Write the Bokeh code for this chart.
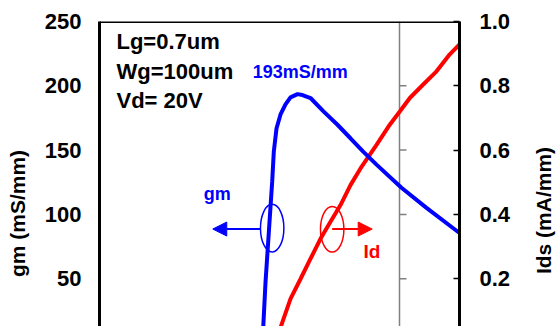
import numpy as np
from bokeh.plotting import figure
from bokeh.layouts import row
from bokeh.models import (Range1d, LinearAxis, FixedTicker, NumeralTickFormatter,
                          Span, Label, Arrow, NormalHead)
from bokeh.embed import file_html
from bokeh.resources import INLINE

# ---- data ----
vg_gm = [-2.29, -2.272, -2.233, -2.122, -2.095, -2.05, -1.983, -1.9, -1.817, -1.7,
         -1.617, -1.483, -1.267, -1.038, -0.817, -0.605, -0.383, 0.033, 0.45, 1.0]
gm = [0.0, 11.3, 47.3, 125.4, 148.8, 166.8, 177.7, 185.5, 191.0, 193.5,
      192.8, 190.5, 180.1, 169.9, 159.2, 148.8, 138.7, 120.7, 105.1, 85.5]

vg_id = [-2.1, -1.983, -1.817, -1.65, -1.483, -1.317, -1.15, -0.983, -0.817, -0.65,
         -0.383, -0.162, 0.005, 0.172, 0.395, 0.617, 0.838, 1.0]
ids = [0.0, 0.048, 0.137, 0.199, 0.262, 0.324, 0.377, 0.429, 0.491, 0.543,
       0.616, 0.679, 0.72, 0.762, 0.804, 0.845, 0.898, 0.929]

gm_ticks = [50, 100, 150, 200, 250]
ids_ticks = [0.2, 0.4, 0.6, 0.8, 1.0]
inner_ticks = [50, 100, 150, 200]

gm_title = "gm (mS/mm)"
ids_title = "Ids (mA/mm)"

x_min, x_max = -5.0, 1.0
gm_min, gm_max = 12.8, 250.0
ids_scale = 250.0

H = 326
LW, RW = 34, 26            # side strips holding the axis titles
W = 556 - LW - RW
BL, BR, BT = 99 - LW, 97 - RW, 21
FONT = "Liberation Sans"
BLUE = "#0000ff"
RED = "#ff0000"

p = figure(width=W, height=H, output_backend="svg", toolbar_location=None,
           x_range=Range1d(x_min, x_max), y_range=Range1d(gm_min, gm_max),
           x_axis_location=None, y_axis_location="left",
           min_border_left=BL, min_border_right=BR, min_border_top=BT, min_border_bottom=0)
p.outline_line_color = None
p.grid.visible = False
p.background_fill_color = "white"
p.border_fill_color = "white"
p.extra_y_ranges = {"ids": Range1d(gm_min / ids_scale, gm_max / ids_scale)}

def style_labels(a, size="22px"):
    a.major_label_text_font = FONT
    a.major_label_text_font_style = "bold"
    a.major_label_text_font_size = size
    a.major_label_text_color = "black"

ax = p.yaxis[0]
ax.ticker = FixedTicker(ticks=gm_ticks)
ax.major_tick_in = 0
ax.major_tick_out = 0
ax.minor_tick_in = 0
ax.minor_tick_out = 0
ax.axis_line_width = 3
ax.axis_line_color = "black"
ax.major_label_standoff = 18
style_labels(ax)

rax = LinearAxis(y_range_name="ids", ticker=FixedTicker(ticks=ids_ticks),
                 formatter=NumeralTickFormatter(format="0.0"),
                 major_tick_in=6, major_tick_out=0, minor_tick_in=0, minor_tick_out=0,
                 major_tick_line_width=1.5, axis_line_width=3, axis_line_color="black",
                 major_label_standoff=20)
style_labels(rax)
p.add_layout(rax, "right")

# top border of the frame
p.add_layout(Span(location=gm_max, dimension="width", line_color="black", line_width=3))

# gray axis line at Vg = 0 with short ticks
p.add_layout(Span(location=0, dimension="height", line_color="#808080", line_width=1.5,
                  level="underlay"))
frame_w = W - BL - BR
tick_dx = 7 * (x_max - x_min) / frame_w
p.segment(x0=[0.0] * len(inner_ticks), y0=inner_ticks,
          x1=[tick_dx] * len(inner_ticks), y1=inner_ticks,
          line_color="#808080", line_width=1.5)

# curves
p.line(vg_id, ids, y_range_name="ids", line_color=RED, line_width=4)
p.line(vg_gm, gm, line_color=BLUE, line_width=4)

# ellipses and arrows
p.ellipse(x=[-2.122], y=[89.3], width=0.39, height=37.0,
          fill_color=None, line_color=BLUE, line_width=1.5)
p.ellipse(x=[-1.122], y=[88.4], width=0.39, height=35.5,
          fill_color=None, line_color=RED, line_width=1.5)
p.add_layout(Arrow(end=NormalHead(size=14, fill_color=BLUE, line_color=BLUE),
                   x_start=-2.317, y_start=88.6, x_end=-3.112, y_end=88.6,
                   line_color=BLUE, line_width=2))
p.add_layout(Arrow(end=NormalHead(size=14, fill_color=RED, line_color=RED),
                   x_start=-1.122, y_start=88.6, x_end=-0.455, y_end=88.6,
                   line_color=RED, line_width=2))

def lab(x, y, text, size, color="black", **kw):
    p.add_layout(Label(x=x, y=y, text=text, text_font=FONT, text_font_style="bold",
                       text_font_size=size, text_color=color, **kw))

lab(-4.717, 224.8, "Lg=0.7um", "22px")
lab(-4.717, 201.6, "Wg=100um", "22px")
lab(-4.717, 178.7, "Vd= 20V", "22px")
lab(-2.445, 203.3, "193mS/mm", "18px", BLUE)
lab(-3.262, 108.1, "gm", "18px", BLUE)
lab(-0.6, 62.8, "Id", "19px", RED)

# side strips with the rotated axis titles
def title_strip(width, text, y_pos):
    f = figure(width=width, height=H, output_backend="svg", toolbar_location=None,
               x_range=Range1d(-1, 1), y_range=Range1d(gm_min, gm_max),
               x_axis_location=None, y_axis_location=None,
               min_border_left=0, min_border_right=0, min_border_top=BT, min_border_bottom=0)
    f.outline_line_color = None
    f.grid.visible = False
    f.background_fill_color = "white"
    f.border_fill_color = "white"
    f.add_layout(Label(x=0, y=y_pos, text=text, text_font=FONT, text_font_style="bold",
                       text_font_size="21px", text_color="black", angle=np.pi / 2,
                       text_align="center", text_baseline="middle"))
    return f

left_strip = title_strip(LW, gm_title, 100.7)
right_strip = title_strip(RW, ids_title, 103.0)

layout = row(left_strip, p, right_strip, spacing=0)

open("out.html", "w").write(file_html(layout, INLINE))
